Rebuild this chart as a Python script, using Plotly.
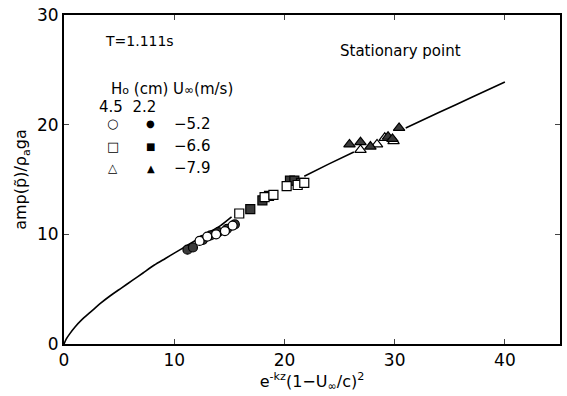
import plotly.graph_objects as go

# Theoretical curve (gaps where hidden by data)
curve_x = [0, 0.2, 0.5, 1.0, 1.6, 2.4, 3.3, 4.2, 5.2, 6.2, 7.2, 8.2, 9.2, 10.2, 11.2, 12.2, 13.2, 14.2, 15.2,
           None, 21.8, 24.0, 26.3,
           None, 31.0, 34.0, 37.0, 40.0]
curve_y = [0, 0.45, 0.9, 1.55, 2.2, 2.9, 3.7, 4.4, 5.1, 5.8, 6.5, 7.2, 7.8, 8.4, 9.0, 9.6, 10.2, 10.8, 11.6,
           None, 15.3, 16.4, 17.5,
           None, 19.7, 21.1, 22.5, 23.9]

# H0 = 4.5 cm (open) and 2.2 cm (filled)
oc_x = [12.3, 13.0, 13.8, 14.6, 15.3]
oc_y = [9.4, 9.8, 10.0, 10.3, 10.8]
fc_x = [11.2, 11.7, 12.6, 13.3, 14.0, 14.8, 15.5]
fc_y = [8.6, 8.8, 9.5, 9.9, 10.2, 10.5, 10.9]
os_x = [15.9, 18.2, 19.0, 20.2, 21.2, 21.8]
os_y = [11.9, 13.4, 13.6, 14.4, 14.5, 14.7]
fs_x = [16.9, 18.0, 18.6, 20.5, 20.9, 21.5]
fs_y = [12.3, 13.1, 13.5, 14.9, 14.9, 14.7]
ot_x = [26.9, 28.4, 29.1, 29.9]
ot_y = [17.7, 18.2, 18.8, 18.5]
ft_x = [25.9, 26.9, 27.8, 29.4, 29.8, 30.4]
ft_y = [18.2, 18.4, 18.0, 18.9, 18.7, 19.7]

x_ticks = [0, 10, 20, 30, 40]
y_ticks = [0, 10, 20, 30]

FONT = "DejaVu Sans"

fig = go.Figure()
fig.add_trace(go.Scatter(x=curve_x, y=curve_y, mode="lines",
                         line=dict(color="black", width=1.6, shape="spline", smoothing=0.6),
                         connectgaps=False))

def add_pts(x, y, symbol, filled, size=9):
    fig.add_trace(go.Scatter(
        x=x, y=y, mode="markers",
        marker=dict(symbol=symbol, size=size,
                    color="#3a3a3a" if filled else "white",
                    line=dict(color="black", width=1.2))))

add_pts(fc_x, fc_y, "circle", True)
add_pts(oc_x, oc_y, "circle", False)
add_pts(fs_x, fs_y, "square", True)
add_pts(os_x, os_y, "square", False)
add_pts(ot_x, ot_y, "triangle-up", False, 10)
add_pts(ft_x, ft_y, "triangle-up", True, 10)

ann = []
def txt(x, y, t, size=15, anchor="center"):
    ann.append(dict(x=x, y=y, xref="paper", yref="paper", text=t, showarrow=False,
                    xanchor=anchor, yanchor="middle",
                    font=dict(family=FONT, size=size, color="black")))

W = 498.0; H = 333.0; L = 64; T = 11
def px(xp): return (xp - L) / W
def py(yp): return 1 - (yp - T) / H

txt(px(140), py(37), "T=1.111s", 14)
txt(px(402), py(47), "Stationary point", 15)
txt(px(172), py(86), "H<span style='font-size:11px'>o</span> (cm) U<span style='font-size:12px'>∞</span>(m/s)", 15)
txt(px(128), py(104), "4.5  2.2", 15)
txt(px(113), py(121), "○", 13)
txt(px(151), py(121), "●", 10)
txt(px(193), py(121), "−5.2", 15)
txt(px(113), py(144), "□", 13)
txt(px(151), py(144), "■", 10)
txt(px(193), py(144), "−6.6", 15)
txt(px(113), py(166), "△", 12)
txt(px(151), py(166), "▲", 10)
txt(px(193), py(166), "−7.9", 15)

fig.update_layout(
    width=567, height=396,
    margin=dict(l=64, r=5, t=11, b=52),
    paper_bgcolor="white", plot_bgcolor="white",
    showlegend=False,
    annotations=ann,
    font=dict(family=FONT, size=16, color="black"),
    xaxis=dict(range=[0, 45], tickvals=x_ticks, ticks="inside", ticklen=5,
               showline=True, linecolor="black", linewidth=2, mirror="ticks",
               showgrid=False, zeroline=False,
               tickfont=dict(family=FONT, size=17),
               title=dict(text="e<sup>-kz</sup>(1−U<sub>∞</sub>/c)<sup>2</sup>",
                          font=dict(family=FONT, size=16), standoff=4)),
    yaxis=dict(range=[0, 30], tickvals=y_ticks, ticks="inside", ticklen=5,
               showline=True, linecolor="black", linewidth=2, mirror="ticks",
               showgrid=False, zeroline=False,
               tickfont=dict(family=FONT, size=17),
               title=dict(text="amp(p̃)/ρ<sub>a</sub>ga",
                          font=dict(family=FONT, size=16), standoff=6)),
)

fig.write_html("out.html")
